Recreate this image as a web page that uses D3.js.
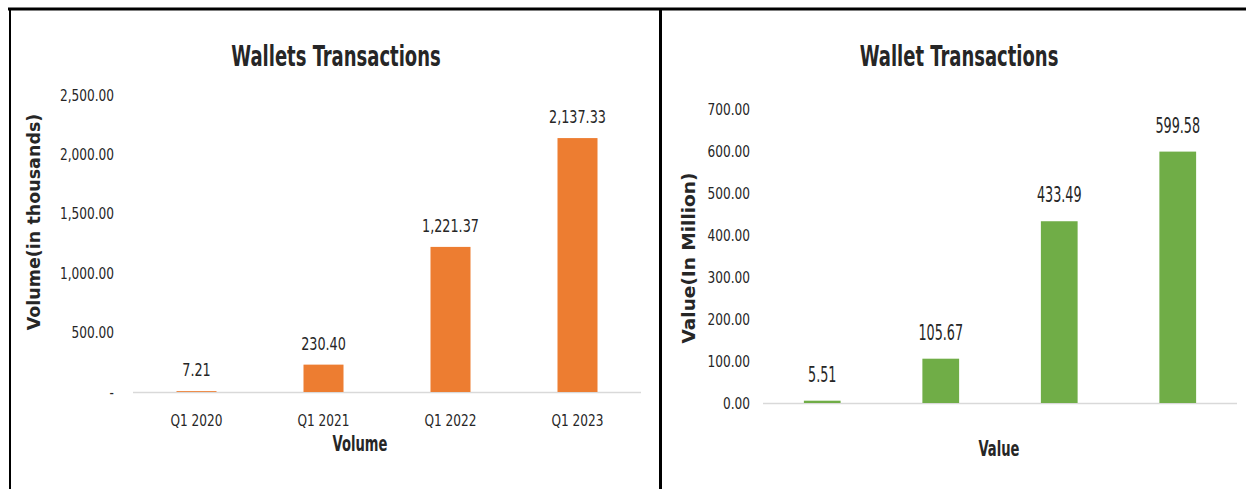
<!DOCTYPE html>
<html><head><meta charset="utf-8">
<script src="https://cdn.jsdelivr.net/npm/d3@7"></script>
<style>
body{margin:0;background:#fff;}
svg{display:block;}
text{font-family:"DejaVu Sans Condensed","DejaVu Sans",sans-serif;fill:#262626;}
</style></head><body>
<svg id="c" width="1246" height="489"></svg>
<script>
const categories = ["Q1 2020","Q1 2021","Q1 2022","Q1 2023"];
const volumeValues = [7.21, 230.40, 1221.37, 2137.33];
const valueValues = [5.51, 105.67, 433.49, 599.58];
const volumeTicks = [0, 500, 1000, 1500, 2000, 2500];
const valueTicks = [0, 100, 200, 300, 400, 500, 600, 700];

const svg = d3.select("#c");
// frame
svg.append("line").attr("x1",8).attr("x2",1246).attr("y1",9).attr("y2",9).attr("stroke","#000").attr("stroke-width",3);
svg.append("line").attr("x1",10).attr("x2",10).attr("y1",8).attr("y2",489).attr("stroke","#000").attr("stroke-width",2);
svg.append("line").attr("x1",660.5).attr("x2",660.5).attr("y1",8).attr("y2",489).attr("stroke","#000").attr("stroke-width",3);

function stretched(parent, x, y, sy, txt, size, weight, fill){
  return parent.append("text").attr("transform",`translate(${x},${y}) scale(1,${sy})`)
    .attr("text-anchor","middle").style("font-size",size+"px").style("font-weight",weight||"normal")
    .attr("fill",fill||"#262626").text(txt);
}

function chart(o){
  const g = svg.append("g");
  const x = d3.scaleBand().domain(categories).range([o.x0,o.x1]).paddingInner(o.pad).paddingOuter(o.pad/2);
  const y = d3.scaleLinear().domain([0,o.max]).range([o.y0,o.yTop]);
  // y ticks
  const ya = d3.axisLeft(y).tickValues(o.ticks).tickSize(0).tickPadding(0).tickFormat(o.tickFmt);
  const yg = g.append("g").attr("transform",`translate(${o.tickX},0)`).call(ya);
  yg.select(".domain").remove();
  yg.selectAll("text").style("font-size","13.5px").attr("fill","#262626").attr("transform","scale(1,1.2)");
  // baseline
  g.append("line").attr("x1",o.x0).attr("x2",o.x1).attr("y1",o.y0+0.5).attr("y2",o.y0+0.5).attr("stroke","#d9d9d9").attr("stroke-width",1.5);
  // bars
  g.selectAll("rect").data(o.values).join("rect")
    .attr("x",(d,i)=>x(categories[i]))
    .attr("width",x.bandwidth())
    .attr("y",d=>y(d))
    .attr("height",d=>o.y0-y(d))
    .attr("fill",o.color);
  // labels
  o.values.forEach((d,i)=>{
    stretched(g, x(categories[i])+x.bandwidth()/2, y(d)-o.lblGap, o.lblSy, d3.format(",.2f")(d), 14.2);
  });
  // x category labels
  if(o.showCats){
    const xa = d3.axisBottom(x).tickSize(0).tickPadding(0);
    const xg = g.append("g").attr("transform",`translate(0,${o.catY})`).call(xa);
    xg.select(".domain").remove();
    xg.selectAll("text").style("font-size","13.5px").attr("fill","#262626").attr("dy","0").attr("y",0)
      .attr("transform","scale(1,1.2)");
  }
  // title
  stretched(g, o.titleX, o.titleY, 1.4, o.title, 20, "bold", "#000");
  // x axis title
  stretched(g, o.xtX, o.xtY, 1.5, o.xTitle, 14.6, "bold", "#000");
  // y axis title
  g.append("text").attr("transform",`translate(${o.ytX},${o.ytY}) rotate(-90)`).attr("text-anchor","middle")
    .attr("dy","0.35em")
    .style("font-family","'DejaVu Sans',sans-serif").style("font-size",o.ytSize+"px").style("font-weight","bold").attr("fill","#000").text(o.yTitle);
}

chart({x0:133,x1:641,pad:0.685,y0:392,yTop:95,max:2500,ticks:volumeTicks,
  tickFmt:d=>d===0?"-":d3.format(",.2f")(d),tickX:114,values:volumeValues,color:"#ED7D31",
  lblGap:15,lblSy:1.25,
  showCats:true,catY:426,title:"Wallets Transactions",titleX:336,titleY:66,
  xTitle:"Volume",xtX:360,xtY:451,yTitle:"Volume(in thousands)",ytX:34,ytY:222,ytSize:17.5});

chart({x0:763,x1:1237,pad:0.69,y0:403,yTop:109.5,max:700,ticks:valueTicks,
  tickFmt:d3.format(",.2f"),tickX:750,values:valueValues,color:"#70AD47",
  lblGap:19,lblSy:1.5,
  showCats:false,title:"Wallet Transactions",titleX:959,titleY:66,
  xTitle:"Value",xtX:999,xtY:456,yTitle:"Value(In Million)",ytX:689,ytY:258,ytSize:18.5});
</script>
</body></html>
